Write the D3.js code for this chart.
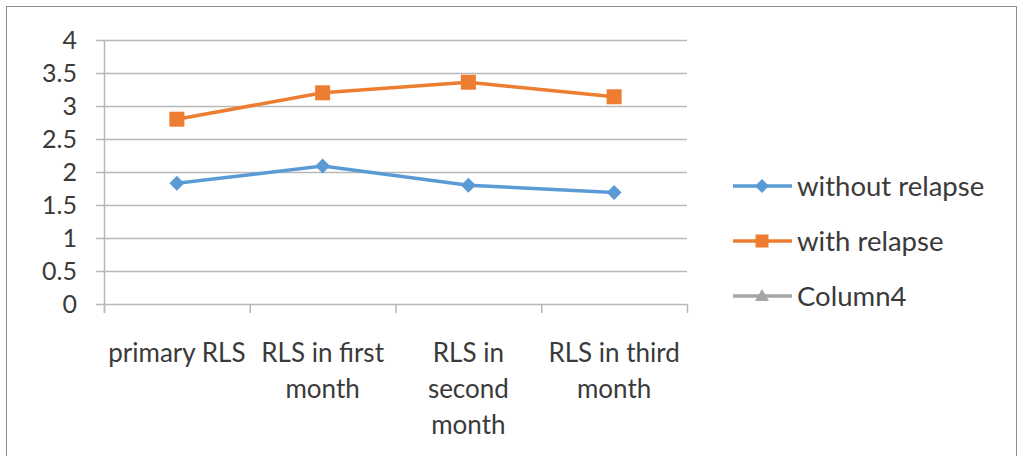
<!DOCTYPE html>
<html><head><meta charset="utf-8">
<script src="https://cdn.jsdelivr.net/npm/d3@7"></script>
<style>body{margin:0;background:#fff}svg{display:block}text{font-family:Lato,"Open Sans",sans-serif;fill:#3a3a3a}</style>
</head><body><svg id="c" width="1023" height="456"></svg>
<script>
const categories = ["primary RLS","RLS in first month","RLS in second month","RLS in third month"];
const categoryLines = [["primary RLS"],["RLS in first","month"],["RLS in","second","month"],["RLS in third","month"]];
const withoutRelapse = [1.83, 2.09, 1.80, 1.69];
const withRelapse = [2.80, 3.20, 3.36, 3.14];
const yTicks = [0,0.5,1,1.5,2,2.5,3,3.5,4];
const seriesNames = ["without relapse","with relapse","Column4"];
const colors = ["#5B9BD5","#ED7D31","#A5A5A5"];

const svg = d3.select("#c");
svg.append("rect").attr("x",6.5).attr("y",6.5).attr("width",1010).attr("height",460).attr("fill","none").attr("stroke","#8c8c8c").attr("stroke-width",1);

const x = d3.scaleBand().domain(categories).range([104,687]);
const y = d3.scaleLinear().domain([0,4]).range([304,40]);

svg.append("g").selectAll("line").data(yTicks).join("line")
  .attr("x1",96).attr("x2",687).attr("y1",d=>y(d)+0.5).attr("y2",d=>y(d)+0.5)
  .attr("stroke","#b8b8b8").attr("stroke-width",1.5);
svg.append("line").attr("x1",104.5).attr("x2",104.5).attr("y1",y(4)).attr("y2",y(0)+9).attr("stroke","#b8b8b8").attr("stroke-width",1.5);
svg.append("g").selectAll("text").data(yTicks).join("text")
  .attr("x",77).attr("y",d=>y(d)).attr("dy","0.35em").attr("text-anchor","end")
  .attr("font-size",25).text(d=>d);
const tickXs = categories.map(c=>x(c)).concat([x.range()[1]]);
svg.append("g").selectAll("line").data(tickXs).join("line")
  .attr("x1",d=>d+0.5).attr("x2",d=>d+0.5).attr("y1",y(0)).attr("y2",y(0)+9)
  .attr("stroke","#b8b8b8").attr("stroke-width",1.5);
const xl = svg.append("g").selectAll("text").data(categories).join("text")
  .attr("x",d=>x(d)+x.bandwidth()/2).attr("y",362).attr("text-anchor","middle").attr("font-size",26);
xl.each(function(d,i){
  d3.select(this).selectAll("tspan").data(categoryLines[i]).join("tspan")
    .attr("x",x(d)+x.bandwidth()/2).attr("dy",(t,j)=>j===0?0:36).text(t=>t);
});

const cx = c=>x(c)+x.bandwidth()/2;
const line = d3.line().x((d,i)=>cx(categories[i])).y(d=>y(d));
const diamondPath = r => `M0,${-r}L${r},0L0,${r}L${-r},0Z`;
const squarePath = s => `M${-s},${-s}H${s}V${s}H${-s}Z`;

svg.append("path").datum(withoutRelapse).attr("d",line).attr("fill","none").attr("stroke",colors[0]).attr("stroke-width",3.5);
svg.append("g").selectAll("path").data(withoutRelapse).join("path")
  .attr("transform",(d,i)=>`translate(${cx(categories[i])},${y(d)})`).attr("d",diamondPath(7.5)).attr("fill",colors[0]);
svg.append("path").datum(withRelapse).attr("d",line).attr("fill","none").attr("stroke",colors[1]).attr("stroke-width",3.5);
svg.append("g").selectAll("path").data(withRelapse).join("path")
  .attr("transform",(d,i)=>`translate(${cx(categories[i])},${y(d)})`).attr("d",squarePath(7.5)).attr("fill",colors[1]);

const legY = [186,241,296];
const legSym = [diamondPath(7), squarePath(6.5), "M0,-7L7,5H-7Z"];
const lg = svg.append("g").selectAll("g").data(seriesNames).join("g").attr("transform",(d,i)=>`translate(0,${legY[i]})`);
lg.append("line").attr("x1",733).attr("x2",792).attr("y1",0).attr("y2",0).attr("stroke",(d,i)=>colors[i]).attr("stroke-width",3.5);
lg.append("path").attr("transform","translate(762,0)").attr("d",(d,i)=>legSym[i]).attr("fill",(d,i)=>colors[i]);
lg.append("text").attr("x",797).attr("y",0).attr("dy","0.35em").attr("font-size",27.5).text(d=>d);
</script></body></html>
